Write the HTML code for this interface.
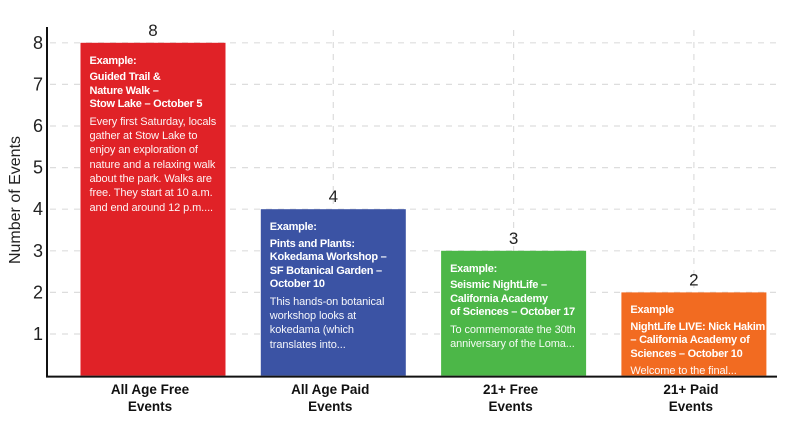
<!DOCTYPE html>
<html><head><meta charset="utf-8"><style>
body{margin:0;width:794px;height:421px;background:#fff;overflow:hidden;font-family:"Liberation Sans",sans-serif}
.bt{position:absolute;color:#fff;font-size:11px;line-height:13.5px}
.bt b{display:block;font-weight:bold;letter-spacing:-0.25px;white-space:nowrap}
.bt .t{margin-top:3px;line-height:14.3px;opacity:.95;white-space:nowrap;letter-spacing:-0.1px}
.bt .h{margin-bottom:3px}
</style></head><body>
<svg id="chart" width="794" height="421" style="position:absolute;left:0;top:0"></svg>
<div id="texts"></div>
<script>
const categories=["All Age Free|Events","All Age Paid|Events","21+ Free|Events","21+ Paid|Events"];
const values=[8,4,3,2];
const colors=["#e02227","#3b53a4","#4cb748","#f26b21"];
const yTicks=[1,2,3,4,5,6,7,8];
const heads=["Example:","Example:","Example:","Example"];
const titles=["Guided Trail &amp;<br>Nature Walk –<br>Stow Lake – October 5","Pints and Plants:<br>Kokedama Workshop –<br>SF Botanical Garden –<br>October 10","Seismic NightLife –<br>California Academy<br>of Sciences – October 17","NightLife LIVE: Nick Hakim<br>– California Academy of<br>Sciences – October 10"];
const bodies=["Every first Saturday, locals<br>gather at Stow Lake to<br>enjoy an exploration of<br>nature and a relaxing walk<br>about the park. Walks are<br>free. They start at 10 a.m.<br>and end around 12 p.m....","This hands-on botanical<br>workshop looks at<br>kokedama (which<br>translates into...","To commemorate the 30th<br>anniversary of the Loma...","Welcome to the final..."];
const NS="http://www.w3.org/2000/svg";
const svg=document.getElementById('chart');
const y0=375.6,unit=41.6;
function yS(v){return y0-v*unit;}
function xC(i){return 153+i*180.3;}
function mk(t,a,p){const e=document.createElementNS(NS,t);for(const k in a)e.setAttribute(k,a[k]);(p||svg).appendChild(e);return e;}
yTicks.forEach(v=>{
  const g=mk('line',{x1:50,x2:777,y1:yS(v),y2:yS(v),stroke:'#ddd','stroke-dasharray':'6,6','stroke-width':1.2});
  
  
  const t=mk('text',{x:38,y:yS(v)+6,'text-anchor':'middle','font-size':18,fill:'#222'});
  t.textContent=v;
  
  
});
categories.forEach((c,i)=>{
  const g=mk('line',{x1:xC(i),x2:xC(i),y1:30,y2:y0,stroke:'#ddd','stroke-dasharray':'6,6','stroke-width':1.2});
  
  
});
const texts=document.getElementById('texts');
categories.forEach((c,i)=>{
  const w=145,x=xC(i)-w/2,y=yS(values[i]);
  const r=mk('rect',{x:x,y:y,width:w,height:y0-y,fill:colors[i]});
  
  
  const v=mk('text',{x:xC(i),y:y-7,'text-anchor':'middle','font-size':17,fill:'#222'});
  v.textContent=values[i];
  
  
  c.split('|').forEach((l,j)=>{
    const t=mk('text',{x:xC(i)-3,y:394+j*17,'text-anchor':'middle','font-size':13.5,'font-weight':'bold',fill:'#111'});
    t.textContent=l;
    
    
  });
  const d=document.createElement('div');
  d.className='bt';d.style.left=(x+9)+'px';d.style.top=(y+12)+'px';
  d.innerHTML='<b class="h">'+heads[i]+'</b><b>'+titles[i]+'</b><div class="t">'+bodies[i]+'</div>';
  
  
  texts.appendChild(d);
});
const ax=mk('line',{x1:47,x2:47,y1:27,y2:y0+1,stroke:'#111','stroke-width':2});


const bx=mk('line',{x1:46,x2:777,y1:y0+1,y2:y0+1,stroke:'#111','stroke-width':2});


const yt=mk('text',{x:0,y:0,transform:'translate(20,200) rotate(-90)','text-anchor':'middle','font-size':16,fill:'#222'});
yt.textContent='Number of Events';


</script>
</body></html>
